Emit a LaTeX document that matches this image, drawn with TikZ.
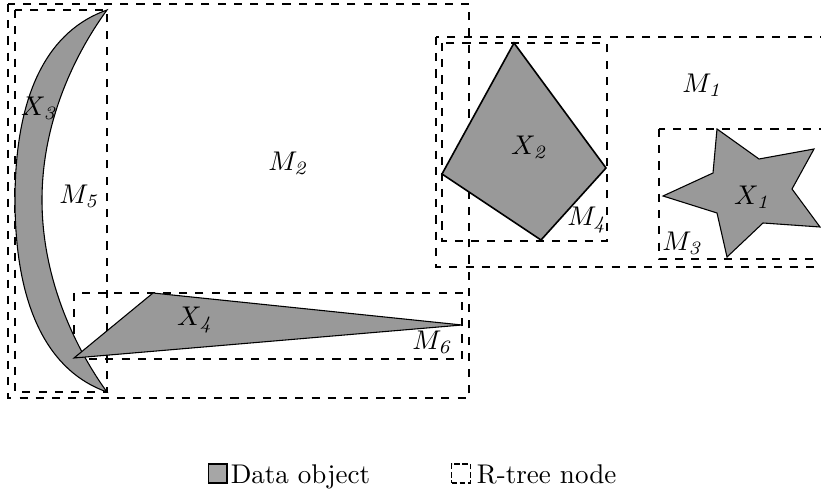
\documentclass[tikz,border=0pt]{standalone}
\usetikzlibrary{positioning}
\tikzset{
    rtnode/.style={draw, dashed, thin},
    dataobj/.style={draw, fill=black!40, line join=miter},
    lbl/.style={inner sep=0pt, font=\normalsize},
    legsq/.style={minimum size=7pt, inner sep=0pt}
}

\begin{document}
\begin{tikzpicture}[x=0.013cm, y=0.013cm]
\useasboundingbox (0,0) rectangle (821,-493);
% R-tree nodes
\draw[rtnode] (8,-4) rectangle (469,-398);
\draw[rtnode] (15,-10) rectangle (107,-392);
\draw[rtnode] (74,-293) rectangle (462,-359);
\draw[rtnode] (436,-37) rectangle (824,-267);
\draw[rtnode] (442,-43) rectangle (607,-241);
\draw[rtnode] (659,-129) rectangle (824,-259);
% data objects
\draw[dataobj] (107,-10) .. controls (50,-30) and (15,-90) .. (15,-200)
    .. controls (15,-310) and (50,-372) .. (107,-392)
    .. controls (85,-362) and (42,-290) .. (42,-200)
    .. controls (42,-110) and (85,-40) .. (107,-10) -- cycle;
\draw[dataobj, semithick] (514,-43) -- (606,-168) -- (541,-240) -- (442,-174) -- cycle;
\draw[dataobj] (74,-358) -- (153,-293) -- (462,-325) -- cycle;
\draw[dataobj] (717,-129) -- (759,-159) -- (814,-149) -- (792,-189) -- (820,-227)
    -- (763,-223) -- (727,-257) -- (717,-213) -- (663,-196) -- (713,-173) -- cycle;
% labels
\node[lbl] (m2) at (289,-163) {$M_{\mathit{2}}$};
\node[lbl] (m5) at (80,-196) {$M_{\mathit{5}}$};
\node[lbl] (x3) at (40,-108) {$X_{\mathit{3}}$};
\node[lbl] (x4) at (196,-320) {$X_{\mathit{4}}$};
\node[lbl] (m6) at (433,-342) {$M_{\mathit{6}}$};
\node[lbl] (m1) at (703,-85) {$M_{\mathit{1}}$};
\node[lbl] (x2) at (530,-147) {$X_{\mathit{2}}$};
\node[lbl] (m4) at (588,-220) {$M_{\mathit{4}}$};
\node[lbl] (m3) at (683,-243) {$M_{\mathit{3}}$};
\node[lbl] (x1) at (753,-197) {$X_{\mathit{1}}$};
% legend
\node[legsq, draw, fill=black!35] (objkey) at (217.5,-473.5) {};
\node[anchor=base west, inner sep=0pt] (objtext) at ([xshift=1pt]objkey.south east) {Data object};
\node[legsq, draw, dashed, dash pattern=on 2pt off 1pt] (rtkey) at (461,-473.5) {};
\node[anchor=base west, inner sep=0pt] (rttext) at ([xshift=2pt]rtkey.south east) {R-tree node};
\end{tikzpicture}
\end{document}
